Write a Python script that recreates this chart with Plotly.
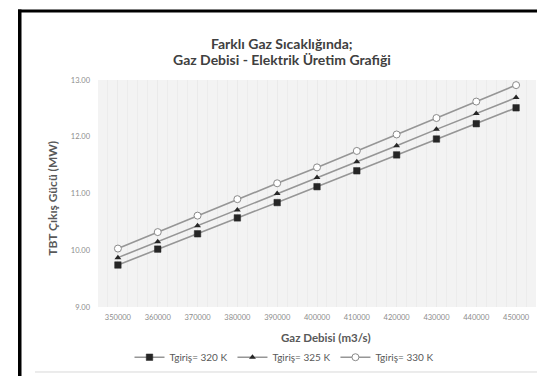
import plotly.graph_objects as go

gas_flow = [350000, 360000, 370000, 380000, 390000, 400000, 410000, 420000, 430000, 440000, 450000]
power_320 = [9.74, 10.02, 10.29, 10.57, 10.84, 11.12, 11.40, 11.68, 11.96, 12.23, 12.51]
power_325 = [9.87, 10.15, 10.43, 10.71, 11.00, 11.28, 11.56, 11.84, 12.13, 12.41, 12.69]
power_330 = [10.03, 10.32, 10.61, 10.90, 11.18, 11.46, 11.75, 12.04, 12.33, 12.62, 12.91]
series_names = ["Tgiriş= 320 K", "Tgiriş= 325 K", "Tgiriş= 330 K"]
y_ticks = [9, 10, 11, 12, 13]

W, H = 545, 376
L, R, T, B = 90, 528, 71.5, 302

def px(x):
    return (x - L) / (R - L)

def py(y):
    return (B - y) / (B - T)

FONT = "Lato"
fig = go.Figure()
line_col = "#969696"
fig.add_trace(go.Scatter(x=gas_flow, y=power_320, name=series_names[0], mode="lines+markers",
                         line=dict(color=line_col, width=1.6),
                         marker=dict(symbol="square", size=6.5, color="#262626", line=dict(color="#262626", width=0.5))))
fig.add_trace(go.Scatter(x=gas_flow, y=power_325, name=series_names[1], mode="lines+markers",
                         line=dict(color=line_col, width=1.6),
                         marker=dict(symbol="triangle-up", size=6, color="#262626")))
fig.add_trace(go.Scatter(x=gas_flow, y=power_330, name=series_names[2], mode="lines+markers",
                         line=dict(color=line_col, width=1.6),
                         marker=dict(symbol="circle", size=7, color="white", line=dict(color="#8a8a8a", width=1))))

fig.update_layout(
    width=W, height=H,
    margin=dict(l=L, r=W - R, t=T, b=H - B),
    paper_bgcolor="white", plot_bgcolor="#f3f3f3",
    font=dict(family=FONT, color="#7f7f7f", size=8),
    showlegend=True,
    legend=dict(orientation="h", x=px(276), y=py(353), xanchor="center", yanchor="middle",
                font=dict(size=10, color="#595959", family=FONT), itemwidth=30,
                bgcolor="rgba(0,0,0,0)"),
    xaxis=dict(range=[345000, 455000], tickvals=gas_flow, ticktext=[str(v) for v in gas_flow],
               showgrid=True, gridcolor="#eaeaea", gridwidth=1, zeroline=False, showline=False,
               ticks="", tickfont=dict(size=7.5, color="#8c8c8c"), ticklabelstandoff=4,
               minor=dict(dtick=2500, tick0=345000, showgrid=True, gridcolor="#ececec", gridwidth=1)),
    yaxis=dict(range=[9, 13], tickvals=y_ticks, tickformat=".2f", showgrid=False, zeroline=False,
               showline=False, ticks="", tickfont=dict(size=7.5, color="#8c8c8c"), ticklabelstandoff=7),
)

annotations = [
    dict(text="<b>Farklı Gaz Sıcaklığında;</b>", x=px(274), y=py(34), font=dict(size=14, color="#404040")),
    dict(text="<b>Gaz Debisi - Elektrik Üretim Grafiği</b>", x=px(274), y=py(51), font=dict(size=14, color="#404040")),
    dict(text="<b>Gaz Debisi (m3/s)</b>", x=px(318), y=py(333), font=dict(size=11.5, color="#595959")),
    dict(text="<b>TBT Çıkış Gücü (MW)</b>", x=px(45), y=py(192), textangle=-90, font=dict(size=12, color="#595959")),
]
for a in annotations:
    a.update(xref="paper", yref="paper", showarrow=False, xanchor="center", yanchor="middle")
    a["font"]["family"] = FONT
fig.update_layout(annotations=annotations)

shapes = [
    dict(type="rect", x0=px(10), x1=px(13.5), y0=py(376), y1=py(0), fillcolor="black", line=dict(width=0)),
    dict(type="rect", x0=px(10), x1=px(545), y0=py(3), y1=py(0), fillcolor="black", line=dict(width=0)),
    dict(type="line", x0=px(532), x1=px(532), y0=py(15), y1=py(368), line=dict(color="#d9d9d9", width=1)),
    dict(type="line", x0=px(27), x1=px(532), y0=py(368), y1=py(368), line=dict(color="#d9d9d9", width=1)),
]
for s in shapes:
    s.update(xref="paper", yref="paper", layer="above")
fig.update_layout(shapes=shapes)

fig.write_html("out.html")
